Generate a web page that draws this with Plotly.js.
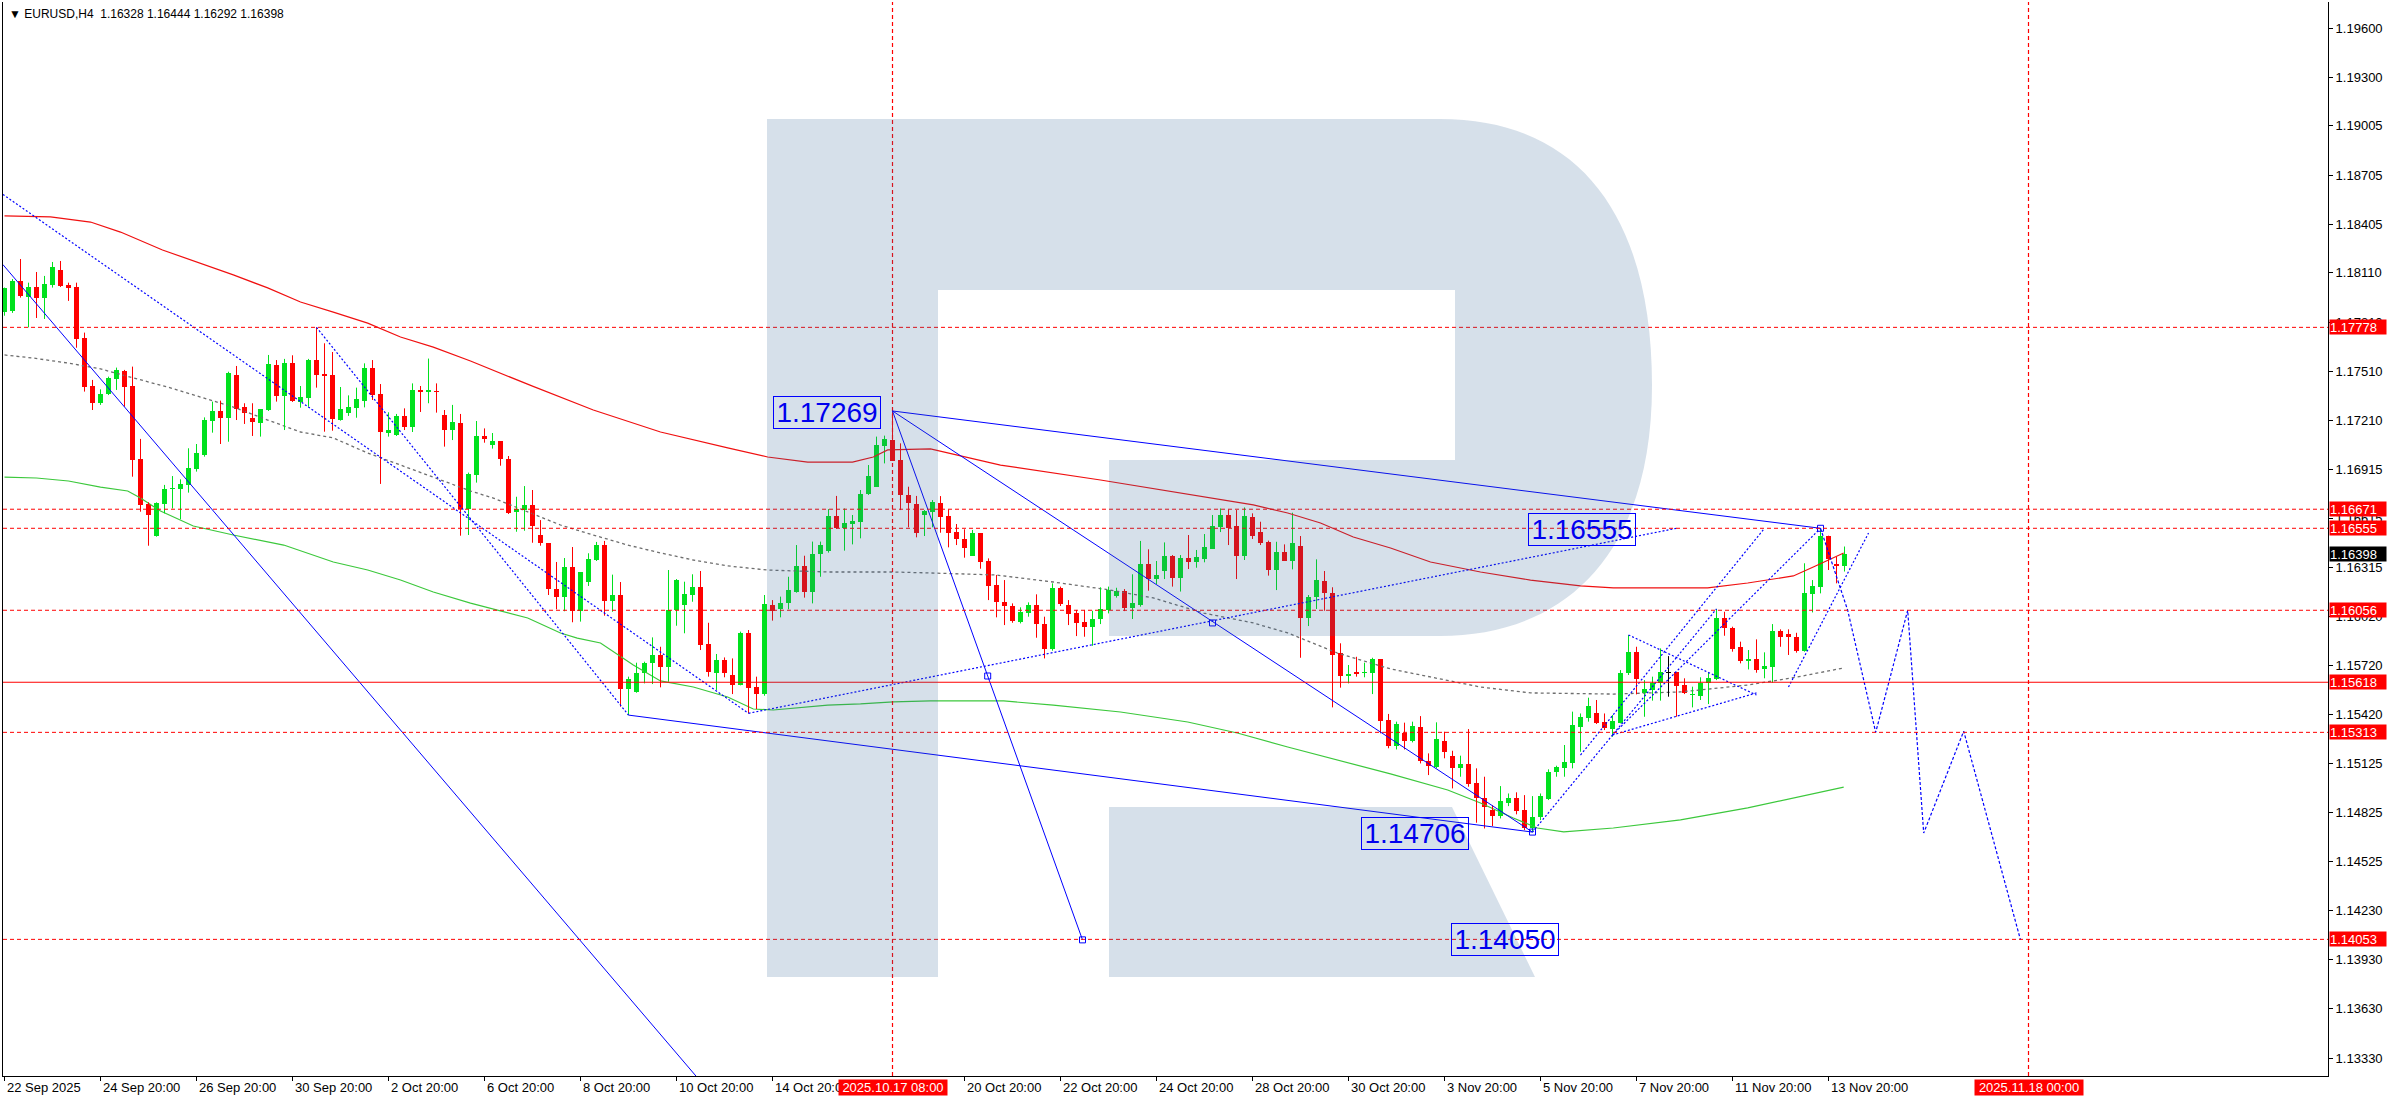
<!DOCTYPE html>
<html><head><meta charset="utf-8">
<script src="https://cdn.plot.ly/plotly-3.0.1.min.js"></script>
<style>html,body{margin:0;padding:0;background:#fff;}#chart{width:2390px;height:1100px;}</style>
</head><body><div id="chart"></div>
<script>
// ---------- DATA ----------
const opens = [1.17874,1.17878,1.18060,1.17965,1.18024,1.17959,1.18038,1.18127,1.18038,1.18024,
1.17713,1.17421,1.17318,1.17373,1.17466,1.17513,1.17421,1.16977,1.16703,1.16510,
1.16703,1.16792,1.16794,1.16819,1.16916,1.17001,1.17210,1.17269,1.17228,1.17488,
1.17295,1.17226,1.17198,1.17275,1.17549,1.17360,1.17561,1.17322,1.17350,1.17579,
1.17494,1.17488,1.17214,1.17257,1.17287,1.17332,1.17531,1.17373,1.17137,1.17123,
1.17239,1.17174,1.17397,1.17387,1.17391,1.17245,1.17155,1.17196,1.16670,1.16879,
1.17117,1.17064,1.17086,1.16977,1.16652,1.16666,1.16695,1.16512,1.16465,1.16185,
1.16139,1.16319,1.16050,1.16230,1.16362,1.16453,1.16114,1.16149,1.15575,1.15561,
1.15672,1.15733,1.15784,1.15713,1.16058,1.16090,1.16149,1.16200,1.15851,1.15676,
1.15753,1.15662,1.15601,1.15920,1.15591,1.15546,1.16088,1.16064,1.16098,1.16169,
1.16327,1.16169,1.16396,1.16419,1.16630,1.16555,1.16581,1.16595,1.16762,1.16808,
1.17058,1.17092,1.16971,1.16758,1.16703,1.16636,1.16656,1.16707,1.16630,1.16530,
1.16490,1.16388,1.16526,1.16356,1.16210,1.16104,1.16084,1.15985,1.16037,1.16088,
1.15972,1.15820,1.16193,1.16086,1.16039,1.15985,1.15956,1.16003,1.16058,1.16143,
1.16175,1.16072,1.16088,1.16338,1.16246,1.16295,1.16386,1.16254,1.16372,1.16352,
1.16368,1.16429,1.16565,1.16636,1.16569,1.16388,1.16622,1.16530,1.16473,1.16301,
1.16409,1.16356,1.16447,1.16011,1.16135,1.16236,1.16159,1.15794,1.15658,1.15678,
1.15672,1.15676,1.15757,1.15388,1.15232,1.15311,1.15262,1.15343,1.15138,1.15104,
1.15262,1.15169,1.15094,1.15120,1.15002,1.14915,1.14840,1.14803,1.14881,1.14911,
1.14840,1.14728,1.14799,1.14907,1.15069,1.15094,1.15128,1.15347,1.15398,1.15428,
1.15378,1.15331,1.15372,1.15672,1.15800,1.15554,1.15571,1.15611,1.15678,1.15678,
1.15601,1.15538,1.15536,1.15611,1.15637,1.16011,1.15950,1.15834,1.15749,1.15757,
1.15696,1.15713,1.15930,1.15911,1.15895,1.15808,1.16155,1.16195,1.16508,1.16335,
1.16328];
const highs = [1.18020,1.18072,1.18194,1.18050,1.18115,1.18091,1.18176,1.18182,1.18050,1.18050,
1.17746,1.17458,1.17401,1.17478,1.17533,1.17519,1.17539,1.17099,1.16713,1.16713,
1.16819,1.16873,1.16853,1.17042,1.17068,1.17230,1.17326,1.17332,1.17508,1.17543,
1.17316,1.17316,1.17279,1.17610,1.17579,1.17586,1.17608,1.17421,1.17586,1.17778,
1.17681,1.17628,1.17415,1.17364,1.17411,1.17559,1.17579,1.17433,1.17261,1.17251,
1.17285,1.17437,1.17421,1.17588,1.17437,1.17275,1.17306,1.17251,1.16894,1.17208,
1.17163,1.17135,1.17086,1.16995,1.16747,1.16812,1.16788,1.16605,1.16465,1.16350,
1.16374,1.16441,1.16289,1.16403,1.16472,1.16478,1.16273,1.16228,1.15652,1.15737,
1.15743,1.15891,1.15834,1.16301,1.16246,1.16230,1.16275,1.16295,1.15980,1.15790,
1.15769,1.15763,1.15926,1.15936,1.15652,1.16149,1.16118,1.16139,1.16260,1.16453,
1.16388,1.16474,1.16474,1.16672,1.16752,1.16676,1.16636,1.16788,1.16940,1.17113,
1.17119,1.17269,1.17072,1.16808,1.16752,1.16666,1.16727,1.16751,1.16670,1.16581,
1.16549,1.16545,1.16526,1.16372,1.16271,1.16240,1.16098,1.16074,1.16104,1.16153,
1.16017,1.16220,1.16200,1.16118,1.16058,1.16058,1.16053,1.16196,1.16200,1.16193,
1.16185,1.16275,1.16478,1.16427,1.16356,1.16469,1.16392,1.16392,1.16514,1.16423,
1.16520,1.16636,1.16676,1.16670,1.16666,1.16682,1.16646,1.16595,1.16480,1.16473,
1.16457,1.16650,1.16508,1.16149,1.16366,1.16295,1.16196,1.15855,1.15723,1.15773,
1.15737,1.15767,1.15757,1.15425,1.15378,1.15372,1.15378,1.15412,1.15185,1.15374,
1.15317,1.15201,1.15171,1.15333,1.15094,1.15043,1.14870,1.14986,1.14941,1.14948,
1.14931,1.14925,1.14941,1.15088,1.15110,1.15236,1.15439,1.15428,1.15524,1.15510,
1.15428,1.15418,1.15692,1.15905,1.15834,1.15631,1.15652,1.15824,1.15777,1.15678,
1.15642,1.15591,1.15648,1.15678,1.16064,1.16047,1.15956,1.15865,1.15814,1.15879,
1.15800,1.15972,1.15940,1.15940,1.15919,1.16342,1.16240,1.16555,1.16510,1.16382,
1.16444];
const lows = [1.17849,1.17866,1.17959,1.17778,1.17835,1.17829,1.18020,1.18024,1.17939,1.17654,
1.17387,1.17275,1.17306,1.17366,1.17397,1.17295,1.16869,1.16656,1.16449,1.16504,
1.16646,1.16676,1.16610,1.16772,1.16900,1.16991,1.17137,1.17068,1.17082,1.17214,
1.17190,1.17117,1.17113,1.17269,1.17326,1.17153,1.17324,1.17289,1.17295,1.17411,
1.17143,1.17149,1.17210,1.17239,1.17228,1.17291,1.17336,1.16825,1.17113,1.17117,
1.17153,1.17141,1.17263,1.17316,1.17259,1.17052,1.17092,1.16510,1.16514,1.16833,
1.17076,1.17040,1.16936,1.16642,1.16534,1.16540,1.16467,1.16449,1.16149,1.16062,
1.16050,1.15983,1.15987,1.16204,1.16356,1.16023,1.16047,1.15469,1.15418,1.15554,
1.15611,1.15607,1.15587,1.15621,1.15962,1.15916,1.16108,1.15814,1.15652,1.15571,
1.15648,1.15546,1.15599,1.15429,1.15455,1.15536,1.15993,1.16013,1.16062,1.16163,
1.16133,1.16098,1.16260,1.16407,1.16551,1.16419,1.16457,1.16494,1.16758,1.16808,
1.16950,1.16967,1.16666,1.16561,1.16500,1.16508,1.16561,1.16528,1.16439,1.16453,
1.16376,1.16388,1.16309,1.16118,1.16013,1.15966,1.15980,1.15976,1.16017,1.15889,
1.15763,1.15810,1.16082,1.15966,1.15899,1.15895,1.15840,1.15972,1.16037,1.16133,
1.16051,1.16003,1.16078,1.16175,1.16216,1.16246,1.16200,1.16170,1.16307,1.16315,
1.16348,1.16429,1.16532,1.16453,1.16246,1.16362,1.16490,1.16453,1.16267,1.16179,
1.16356,1.16305,1.15767,1.15960,1.16064,1.16053,1.15465,1.15585,1.15611,1.15652,
1.15648,1.15546,1.15307,1.15216,1.15209,1.15209,1.15252,1.15124,1.15053,1.15094,
1.15155,1.14972,1.15043,1.14982,1.14763,1.14728,1.14743,1.14789,1.14864,1.14814,
1.14718,1.14706,1.14779,1.14901,1.15043,1.15043,1.15094,1.15195,1.15378,1.15364,
1.15327,1.15286,1.15368,1.15662,1.15544,1.15408,1.15506,1.15506,1.15530,1.15408,
1.15546,1.15465,1.15510,1.15485,1.15631,1.15901,1.15804,1.15733,1.15696,1.15676,
1.15642,1.15615,1.15834,1.15784,1.15798,1.15804,1.16043,1.16159,1.16301,1.16220,
1.16292];
const closes = [1.18020,1.18060,1.17971,1.18024,1.17959,1.18044,1.18146,1.18030,1.18020,1.17707,
1.17417,1.17320,1.17373,1.17472,1.17519,1.17417,1.16971,1.16697,1.16636,1.16707,
1.16794,1.16800,1.16825,1.16922,1.17013,1.17216,1.17269,1.17228,1.17498,1.17281,
1.17257,1.17202,1.17279,1.17555,1.17360,1.17561,1.17330,1.17354,1.17579,1.17488,
1.17484,1.17220,1.17281,1.17295,1.17342,1.17531,1.17366,1.17143,1.17153,1.17239,
1.17174,1.17397,1.17385,1.17397,1.17385,1.17155,1.17202,1.16670,1.16885,1.17117,
1.17100,1.17086,1.16979,1.16646,1.16670,1.16695,1.16571,1.16467,1.16185,1.16139,
1.16319,1.16050,1.16289,1.16368,1.16453,1.16114,1.16149,1.15575,1.15638,1.15672,
1.15733,1.15784,1.15713,1.16058,1.16240,1.16153,1.16200,1.15845,1.15682,1.15753,
1.15672,1.15601,1.15920,1.15585,1.15546,1.16092,1.16054,1.16102,1.16179,1.16327,
1.16169,1.16398,1.16453,1.16630,1.16555,1.16585,1.16599,1.16762,1.16873,1.17062,
1.17098,1.16967,1.16758,1.16707,1.16524,1.16660,1.16713,1.16626,1.16528,1.16490,
1.16433,1.16526,1.16352,1.16206,1.16104,1.16084,1.15991,1.16043,1.16088,1.15970,
1.15820,1.16193,1.16092,1.16035,1.15980,1.15956,1.16003,1.16064,1.16179,1.16173,
1.16072,1.16098,1.16338,1.16244,1.16271,1.16386,1.16254,1.16372,1.16352,1.16378,
1.16439,1.16569,1.16636,1.16555,1.16388,1.16630,1.16510,1.16467,1.16301,1.16409,
1.16356,1.16467,1.16011,1.16137,1.16240,1.16159,1.15786,1.15658,1.15668,1.15668,
1.15678,1.15757,1.15384,1.15232,1.15364,1.15262,1.15351,1.15140,1.15108,1.15272,
1.15195,1.15094,1.15120,1.14998,1.14915,1.14860,1.14803,1.14895,1.14911,1.14836,
1.14728,1.14799,1.14927,1.15073,1.15104,1.15134,1.15357,1.15404,1.15473,1.15372,
1.15337,1.15384,1.15672,1.15800,1.15635,1.15577,1.15615,1.15678,1.15678,1.15597,
1.15554,1.15546,1.15611,1.15642,1.16011,1.15946,1.15820,1.15749,1.15757,1.15692,
1.15719,1.15930,1.15895,1.15891,1.15808,1.16159,1.16204,1.16510,1.16368,1.16327,
1.16398];

// moving averages (sampled: bar position, value)
const maRedX = [0,5.75,10.75,14.5,19.75,24.5,28.6,32.9,37,41.1,45.4,49.5,53.6,58.25,66,73.6,82,90.4,95.4,100.4,106,108.6,110.4,115.75,124.5,137,144.5,156.1,160.4,164.5,168.6,173.25,178.25,184.5,190.75,197,201.1,212.9,217.9,223.6,226.1,229.9];
const maRedY = [1.18456,1.18450,1.18419,1.18358,1.18249,1.18170,1.18097,1.18018,1.17932,1.17871,1.17804,1.17719,1.17658,1.17573,1.17420,1.17275,1.17141,1.17044,1.16989,1.16958,1.16958,1.16989,1.17032,1.17038,1.16940,1.16849,1.16788,1.16697,1.16648,1.16587,1.16502,1.16435,1.16350,1.16289,1.16240,1.16204,1.16192,1.16192,1.16222,1.16265,1.16319,1.16405];
const maGreenX = [0,4,8,12,15.4,17,19.5,23.6,28.6,34.9,41.1,45.4,49.5,53.6,58.25,61.1,65.4,69.5,71.6,74.5,77,78.6,82,86.1,90.4,93.6,96.1,98.6,102.9,107,111.1,115.75,124.9,131.1,139.5,147.9,154.1,160.4,166.6,173.25,180.4,184.5,188.6,191.6,194.9,201.1,209.5,217.9,229.9];
const maGreenY = [1.16867,1.16861,1.16843,1.16806,1.16782,1.16739,1.16660,1.16569,1.16514,1.16453,1.16350,1.16301,1.16240,1.16167,1.16100,1.16064,1.16009,1.15918,1.15887,1.15857,1.15772,1.15723,1.15626,1.15589,1.15528,1.15455,1.15449,1.15461,1.15479,1.15486,1.15498,1.15504,1.15504,1.15479,1.15437,1.15376,1.15309,1.15224,1.15145,1.15060,1.14962,1.14883,1.14792,1.14731,1.14707,1.14731,1.14780,1.14853,1.14980];
const maGrayX = [0,3.6,7.9,12,16.1,20.4,24.5,28.6,32.9,37,41.1,45.4,49.5,53.6,58.25,61.1,65.4,69.5,73.6,77.9,82,86.1,90.4,95.4,102.9,111.1,115.75,123.9,131.1,138.25,143.6,149.9,156.1,160.4,166.6,173.25,178.25,184.5,190.75,201.1,209.5,217.9,224.1,229.9];
const maGrayY = [1.17610,1.17591,1.17561,1.17525,1.17470,1.17415,1.17354,1.17293,1.17214,1.17141,1.17105,1.17013,1.16940,1.16867,1.16782,1.16739,1.16654,1.16575,1.16514,1.16453,1.16405,1.16362,1.16326,1.16301,1.16289,1.16289,1.16283,1.16271,1.16228,1.16179,1.16131,1.16039,1.15979,1.15918,1.15796,1.15699,1.15650,1.15589,1.15553,1.15546,1.15559,1.15601,1.15650,1.15705];

// horizontal levels
const dashedLevels = [1.17778,1.16671,1.16555,1.16056,1.15313,1.14053];
const solidLevels = [1.15618];
const levelLabels = [1.17778,1.16671,1.16555,1.16056,1.15618,1.15313,1.14053];
const lastPrice = 1.16398;
// vertical markers (bar positions) and their date labels
const vLineX = [111,253];
const vLineText = ["2025.10.17 08:00","2025.11.18 00:00"];

// analysis lines [x0,y0,x1,y1]
const solidLines = [
  [-0.2,1.18160,95,1.12733],
  [111,1.17269,227,1.16555],
  [111,1.17269,134.75,1.14050],
  [111,1.17269,191,1.14706],
  [78,1.15418,191,1.14706]
];
const dottedLines = [
  [-0.2,1.18587,93,1.15429],
  [39,1.17778,78,1.15418],
  [93,1.15429,209,1.16555],
  [191,1.14706,214,1.16064],
  [197,1.15175,220,1.16555],
  [201,1.15297,227,1.16555],
  [223,1.15589,233,1.16526],
  [203,1.15906,219,1.15540],
  [201,1.15297,219,1.15553]
];
const forecastX = [227,230.4,233.9,237.9,239.9,244.9,252];
const forecastY = [1.16555,1.16056,1.15313,1.16056,1.14700,1.15320,1.14050];
const pointX = [122.9,151,134.75,191,227];
const pointY = [1.15656,1.15979,1.14050,1.14706,1.16555];
const priceLabelX = [109.6,203.9,183,194.25];
const priceLabelY = [1.17257,1.16548,1.14697,1.14055];
const priceLabelText = ["1.17269","1.16555","1.14706","1.14050"];

const yTicks = [1.19600,1.19300,1.19005,1.18705,1.18405,1.18110,1.17810,1.17510,1.17210,1.16915,1.16615,1.16315,1.16020,1.15720,1.15420,1.15125,1.14825,1.14525,1.14230,1.13930,1.13630,1.13330];
const xLabelIdx = [0,12,24,36,48,60,72,84,96,120,132,144,156,168,180,192,204,216,228];
const xLabelText = ["22 Sep 2025","24 Sep 20:00","26 Sep 20:00","30 Sep 20:00","2 Oct 20:00","6 Oct 20:00","8 Oct 20:00","10 Oct 20:00","14 Oct 20:00","20 Oct 20:00","22 Oct 20:00","24 Oct 20:00","28 Oct 20:00","30 Oct 20:00","3 Nov 20:00","5 Nov 20:00","7 Nov 20:00","11 Nov 20:00","13 Nov 20:00"];
const headerText = "\u25BC EURUSD,H4  1.16328 1.16444 1.16292 1.16398";

// ---------- BUILD ----------
const GREEN = '#00e11e', RED = '#ff0000', BLACK = '#000000', BLUE = '#0000ff';
const FONT = 'Liberation Sans, Arial, sans-serif';
const W = 2390, H = 1100, ML = 3, MR = 62, MT = 2, MB = 24;
const PW = W - ML - MR, PH = H - MT - MB;
const PX_PER_UNIT = 16430;
const yTop = 1.196 + (28 - MT) / PX_PER_UNIT;
const yBot = yTop - PH / PX_PER_UNIT;
const xLeft = -0.1875, xRight = xLeft + PW / 8;

const N = opens.length;
const idx = opens.map((_, i) => i);
const bBase = [], bLen = [], bCol = [];
const wick = {g:{x:[],y:[]}, r:{x:[],y:[]}, k:{x:[],y:[]}};
for (let i = 0; i < N; i++) {
  const o = opens[i], c = closes[i];
  const lo = Math.min(o, c), hi = Math.max(o, c);
  const len = Math.max(hi - lo, 0.00005);
  bBase.push((lo + hi) / 2 - len / 2); bLen.push(len);
  const key = c > o ? 'g' : (c < o ? 'r' : 'k');
  bCol.push(key === 'g' ? GREEN : key === 'r' ? RED : BLACK);
  wick[key].x.push(i, i, null); wick[key].y.push(lows[i], highs[i], null);
}
const traces = [];
traces.push({type:'scatter', mode:'lines', x:maGreenX, y:maGreenY, line:{color:'#3cc83c', width:1.2}, hoverinfo:'skip'});
traces.push({type:'scatter', mode:'lines', x:maGrayX, y:maGrayY, line:{color:'#6e6e6e', width:1.3, dash:'3px,3px'}, hoverinfo:'skip'});
[['g',GREEN],['r',RED],['k',BLACK]].forEach(([k,col]) => {
  traces.push({type:'scatter', mode:'lines', x:wick[k].x, y:wick[k].y, line:{color:col, width:1}, hoverinfo:'skip'});
});
traces.push({type:'bar', x:idx, y:bLen, base:bBase, width:0.625, marker:{color:bCol, line:{width:0}}, hoverinfo:'skip'});
traces.push({type:'scatter', mode:'lines', x:maRedX, y:maRedY, line:{color:'#f01010', width:1.2}, hoverinfo:'skip'});
// vertical date markers
vLineX.forEach(v => traces.push({type:'scatter', mode:'lines', x:[v, v], y:[yBot, yTop], line:{color:'#ff0000', width:1.2, dash:'4px,3px'}, hoverinfo:'skip'}));

function segTrace(list, dash, w){
  const x=[], y=[];
  list.forEach(s => { x.push(s[0], s[2], null); y.push(s[1], s[3], null); });
  return {type:'scatter', mode:'lines', x, y, line:{color:BLUE, width:w, dash}, hoverinfo:'skip'};
}
traces.push(segTrace(solidLines, 'solid', 1));
traces.push(segTrace(dottedLines, '2px,2px', 1.2));
traces.push({type:'scatter', mode:'lines', x:forecastX, y:forecastY, line:{color:BLUE, width:1.2, dash:'3px,2px'}, hoverinfo:'skip'});
traces.push({type:'scatter', mode:'markers', x:pointX, y:pointY, marker:{symbol:'square-open', size:6, color:BLUE, line:{width:1}}, hoverinfo:'skip'});

// ---------- LAYOUT ----------
const pxX = v => ((v - ML) / PW).toFixed(5);
const pxY = v => ((H - MB - v) / PH).toFixed(5);
const P = (x, y) => pxX(x) + ',' + pxY(y);

const shapes = [];
dashedLevels.forEach(v => shapes.push({type:'line', xref:'paper', x0:0, x1:1, yref:'y', y0:v, y1:v, line:{color:'#ff0000', width:1, dash:'4px,3px'}, layer:'above'}));
solidLevels.forEach(v => shapes.push({type:'line', xref:'paper', x0:0, x1:1, yref:'y', y0:v, y1:v, line:{color:'#ff0000', width:1.2}, layer:'above'}));
// watermark logo (decoration, pixel geometry)
const logoPath = `M${P(767,119)} L${P(1440,119)} C${P(1590,119)} ${P(1652,230)} ${P(1652,385)} C${P(1652,560)} ${P(1560,636)} ${P(1440,636)} L${P(1109,636)} L${P(1109,460)} L${P(1455,460)} L${P(1455,290)} L${P(938,290)} L${P(938,977)} L${P(767,977)} Z M${P(1109,807)} L${P(1452,807)} L${P(1535,977)} L${P(1109,977)} Z`;
shapes.push({type:'path', xref:'paper', yref:'paper', path:logoPath, fillcolor:'rgba(49,98,152,0.2)', line:{width:0}, layer:'above'});

const ann = [];
ann.push({xref:'paper', yref:'paper', x:0, y:1, xanchor:'left', yanchor:'top', xshift:4, yshift:-3, text:headerText, showarrow:false, font:{family:FONT, size:12, color:'#000'}});
xLabelIdx.forEach((v, k) => ann.push({xref:'x', yref:'paper', x:v, y:0, xanchor:'left', yanchor:'top', yshift:-2, xshift:0, text:xLabelText[k], showarrow:false, font:{family:FONT, size:13, color:'#000'}}));
vLineX.forEach((v, k) => ann.push({xref:'x', yref:'paper', x:v, y:0, xanchor:'center', yanchor:'top', yshift:-3, text:vLineText[k], showarrow:false, bgcolor:'#ff0000', width:108, height:15, borderpad:0, font:{family:FONT, size:13, color:'#fff'}}));
levelLabels.forEach(v => ann.push({xref:'paper', yref:'y', x:1, y:v, xanchor:'left', yanchor:'middle', xshift:1, text:v.toFixed(5), showarrow:false, bgcolor:'#ff0000', width:56, height:14, borderpad:0, align:'left', font:{family:FONT, size:13, color:'#fff'}}));
ann.push({xref:'paper', yref:'y', x:1, y:lastPrice, xanchor:'left', yanchor:'middle', xshift:1, text:lastPrice.toFixed(5), showarrow:false, bgcolor:'#000000', width:56, height:14, borderpad:0, align:'left', font:{family:FONT, size:13, color:'#fff'}});
priceLabelText.forEach((t, k) => ann.push({xref:'x', yref:'y', x:priceLabelX[k], y:priceLabelY[k], xanchor:'right', yanchor:'middle', text:t, showarrow:false, bordercolor:BLUE, borderwidth:1, borderpad:0, width:106, height:31, font:{family:FONT, size:28, color:'#0000ee'}}));

const layout = {
  width:W, height:H, margin:{l:ML, r:MR, t:MT, b:MB},
  paper_bgcolor:'#fff', plot_bgcolor:'#fff', showlegend:false, hovermode:false,
  xaxis:{type:'linear', range:[xLeft, xRight], showgrid:false, zeroline:false,
    showline:true, linecolor:'#000', linewidth:1, ticks:'outside', ticklen:4, tickcolor:'#000',
    tickvals:xLabelIdx, showticklabels:false, fixedrange:true},
  yaxis:{type:'linear', side:'right', range:[yBot, yTop],
    showgrid:false, zeroline:false, showline:true, mirror:true, linecolor:'#000', linewidth:1,
    ticks:'outside', ticklen:4, tickcolor:'#000', tickvals:yTicks, ticktext:yTicks.map(v => v.toFixed(5)),
    tickfont:{family:FONT, size:13, color:'#000'}, fixedrange:true},
  shapes, annotations:ann, bargap:0
};
Plotly.newPlot('chart', traces, layout, {staticPlot:true, displayModeBar:false});
</script></body></html>
